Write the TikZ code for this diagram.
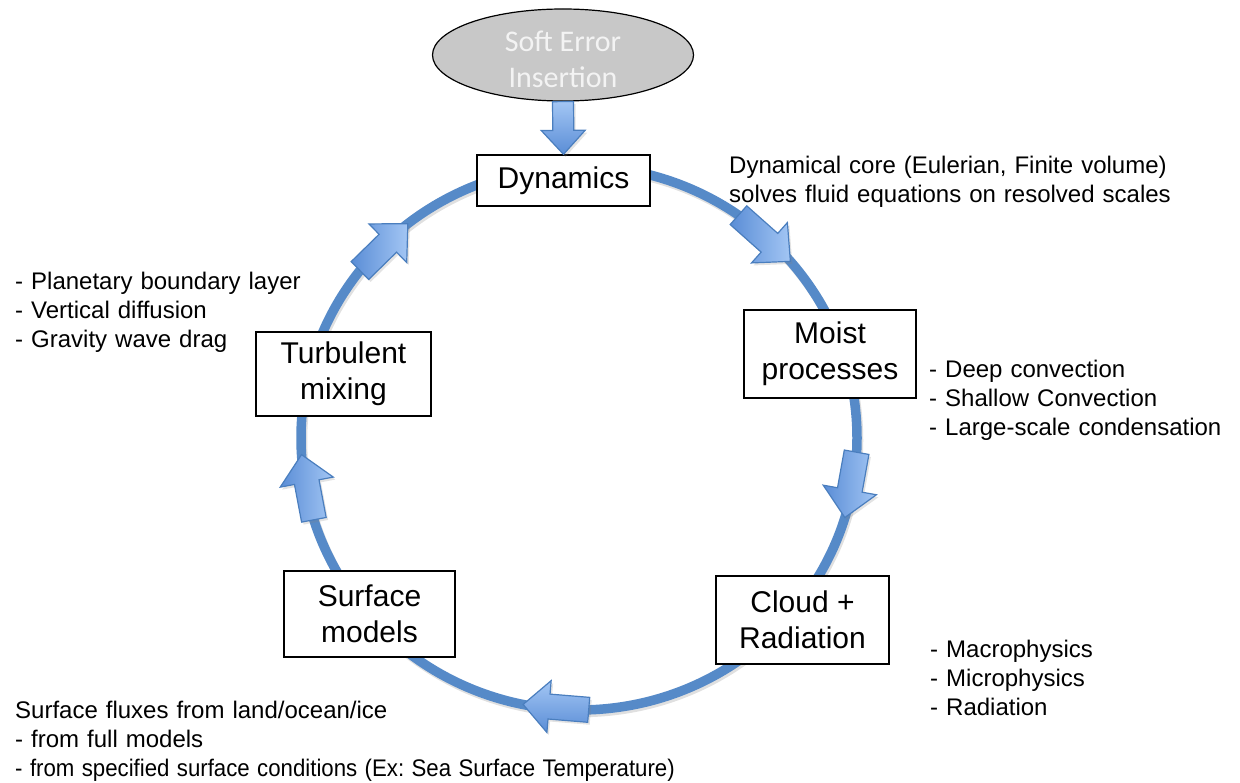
\documentclass[tikz,border=0pt]{standalone}
\usepackage{fontspec}
\setmainfont{Liberation Sans}
\newfontfamily\capsulefont{Carlito}
\usetikzlibrary{calc,shadows,shapes.geometric}

\definecolor{ringblue}{RGB}{86,138,200}
\definecolor{arrowedge}{RGB}{74,126,190}
\definecolor{arrowlight}{RGB}{163,198,244}
\definecolor{arrowdark}{RGB}{90,141,214}
\definecolor{capsulegray}{RGB}{200,200,200}
\definecolor{capsuletext}{RGB}{243,243,243}

% block arrow: style, tail, tip, shaft half-width, head half-width, head length
\newcommand{\blockarrow}[6]{%
  \path ($(#3)!#6!(#2)$) coordinate (bah);
  \draw[flowarrow,#1]
    ($(#2)!#4!90:(#3)$) -- ($(bah)!#4!90:(#3)$) -- ($(bah)!#5!90:(#3)$)
    -- (#3)
    -- ($(bah)!#5!-90:(#3)$) -- ($(bah)!#4!-90:(#3)$) -- ($(#2)!#4!-90:(#3)$)
    -- cycle;
}

\begin{document}
\frenchspacing
\begin{tikzpicture}[x=1pt,y=-1pt,
  ring/.style={draw=ringblue, line width=9.5pt},
  flowarrow/.style={draw=arrowedge, line width=1.2pt, line join=miter,
    left color=arrowdark, right color=arrowlight,
    drop shadow={opacity=0.22, shadow xshift=2pt, shadow yshift=-2.5pt}},
  stage/.style={draw=black, line width=1.3pt, fill=white, align=center,
    inner sep=0pt, font=\fontsize{30}{36}\selectfont},
  note/.style={anchor=base west, inner sep=0pt, align=left, text width=1000pt,
    font=\fontsize{24}{29}\selectfont},
  capsule/.style={ellipse, draw=black, line width=1.2pt, fill=capsulegray,
    inner sep=0pt},
  capsuletxt/.style={text=capsuletext, align=center, inner sep=0pt,
    font=\capsulefont\fontsize{30}{36}\selectfont}
]
\useasboundingbox (0,0) rectangle (1240,783);

% the cycle ring with a faint shadow
\coordinate (C) at (579,438);
\draw[line width=9.5pt, black, opacity=0.12] ($(C)+(1.5,2.5)$) ellipse [x radius=278, y radius=272];
\draw[ring] (C) ellipse [x radius=278, y radius=272];

% arrow end points on the ring
\path (C) ++(-55:278 and 272) coordinate (a1s);
\path (C) ++(-40.5:278 and 272) coordinate (a1e);
\path (C) ++(3:278 and 272) coordinate (a2s);
\path (C) ++(17:278 and 272) coordinate (a2e);
\path (C) ++(88:278 and 272) coordinate (a3s);
\path (C) ++(101.6:278 and 272) coordinate (a3e);
\path (C) ++(162.5:278 and 272) coordinate (a4s);
\path (C) ++(176.5:278 and 272) coordinate (a4e);
\path (C) ++(218:278 and 272) coordinate (a5s);
\path (C) ++(232:278 and 272) coordinate (a5e);

\blockarrow{}{a1s}{a1e}{12.5pt}{27pt}{28pt}
\blockarrow{}{a2s}{a2e}{12.5pt}{27pt}{28pt}
\blockarrow{top color=arrowlight, bottom color=arrowdark}{a3s}{a3e}{12.5pt}{26pt}{26pt}
\blockarrow{}{a4s}{a4e}{12.5pt}{27pt}{28pt}
\blockarrow{}{a5s}{a5e}{12.5pt}{27pt}{28pt}

% process boxes
\node[stage, minimum width=173, minimum height=51] (dyn) at (563.5,180.5) {Dynamics};
\node[stage, minimum width=172, minimum height=88] (moist) at (830,354) {Moist\\processes};
\node[stage, minimum width=173, minimum height=88] (cloud) at (802.5,620) {Cloud +\\Radiation};
\node[stage, minimum width=171, minimum height=86] (surf) at (369.5,614) {Surface\\models};
\node[stage, minimum width=175, minimum height=84] (turb) at (343.5,374) {Turbulent\\mixing};

% injection point
\node[capsule, minimum width=261, minimum height=92] (soft) at (563,55) {};
\node[capsuletxt] (softtext) at ($(soft.center)+(0,4)$) {Soft Error\\Insertion};
\blockarrow{top color=arrowlight, bottom color=arrowdark}{soft.south}{dyn.north}{10.5pt}{22pt}{24pt}

% descriptions
\node[note] (dyncore) at (729,174) {Dynamical core (Eulerian, Finite volume)\\solves fluid equations on resolved scales};
\node[note] (turbnote) at (15,290) {- Planetary boundary layer\\- Vertical diffusion\\- Gravity wave drag};
\node[note] (moistnote) at (929,378) {- Deep convection\\- Shallow Convection\\- Large-scale condensation};
\node[note] (cloudnote) at (930,657) {- Macrophysics\\- Microphysics\\- Radiation};
\node[note] (surfnote) at (15,718) {Surface fluxes from land/ocean/ice\\- from full models\\\scalebox{0.926}[1]{- from specified surface conditions (Ex: Sea Surface Temperature)}};
\end{tikzpicture}
\end{document}
